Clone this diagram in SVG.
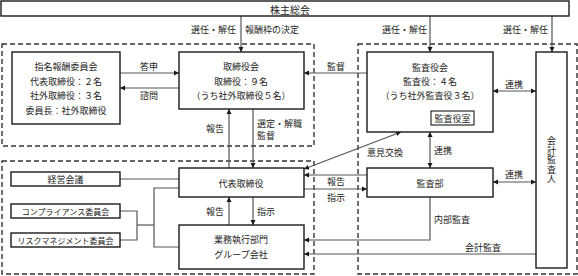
<svg xmlns="http://www.w3.org/2000/svg" width="578" height="276" viewBox="0 0 578 276">
<style>
.bg{fill:#fff}
.box{fill:#fff;stroke:#1a1a1a;stroke-width:1.4}
.dash{fill:none;stroke:#333;stroke-width:1.4;stroke-dasharray:5 3}
.ln{fill:none;stroke:#555;stroke-width:1.2}
.ar{marker-end:url(#ah)}
.da{marker-end:url(#ah);marker-start:url(#ah)}
text{font-family:"Noto Sans CJK JP","Noto Sans CJK SC",sans-serif;font-size:9px;fill:#222;dominant-baseline:central}
.c{text-anchor:middle}
.e{text-anchor:end}
.s8{font-size:8px}
.v{writing-mode:vertical-rl;letter-spacing:0.5px}
</style>
<defs>
<marker id="ah" markerUnits="userSpaceOnUse" markerWidth="6" markerHeight="6" refX="5" refY="3" orient="auto-start-reverse" viewBox="0 0 6 6">
<path d="M0,0.5 L5,3 L0,5.5 Z" fill="#1a1a1a"/>
</marker>
</defs>
<rect class="bg" x="0" y="0" width="578" height="276"/>
<g id="regions">
<rect class="dash" x="2" y="44" width="312" height="102"/>
<rect class="dash" x="358" y="44" width="219" height="230"/>
<rect class="dash" x="2" y="161" width="312" height="113"/>
</g>
<g id="connectors">
<line class="ln ar" x1="241" y1="16" x2="241" y2="52"/>
<line class="ln ar" x1="430" y1="16" x2="430" y2="52"/>
<line class="ln ar" x1="552" y1="16" x2="552" y2="52"/>
<line class="ln ar" x1="120" y1="73" x2="179" y2="73"/>
<line class="ln ar" x1="179" y1="88" x2="120" y2="88"/>
<line class="ln ar" x1="367" y1="73" x2="304" y2="73"/>
<line class="ln da" x1="493" y1="91" x2="536" y2="91"/>
<line class="ln ar" x1="229" y1="168" x2="229" y2="109"/>
<line class="ln ar" x1="253" y1="109" x2="253" y2="168"/>
<line class="ln da" x1="401" y1="132" x2="304" y2="169"/>
<line class="ln da" x1="430" y1="132" x2="430" y2="168"/>
<line class="ln ar" x1="367" y1="175" x2="304" y2="175"/>
<line class="ln ar" x1="304" y1="189" x2="367" y2="189"/>
<line class="ln da" x1="493" y1="182" x2="536" y2="182"/>
<path class="ln ar" d="M430 197 V240 H304"/>
<line class="ln ar" x1="536" y1="254" x2="304" y2="254"/>
<line class="ln ar" x1="229" y1="225" x2="229" y2="197"/>
<line class="ln ar" x1="253" y1="197" x2="253" y2="225"/>
<line class="ln" x1="120" y1="179" x2="179" y2="179"/>
<path class="ln" d="M120 211 H137 V240 H120"/>
<path class="ln" d="M137 225 H154"/>
<path class="ln" d="M179 188 H154 V247 H179"/>
</g>
<g id="labels">
<text class="e" x="236" y="29">選任・解任</text>
<text x="245" y="29">報酬枠の決定</text>
<text class="e" x="427" y="29">選任・解任</text>
<text class="e" x="548" y="29">選任・解任</text>
<text class="c" x="149" y="66">答申</text>
<text class="c" x="149" y="95">諮問</text>
<text class="c" x="336" y="66">監督</text>
<text class="c" x="514" y="84">連携</text>
<text class="e" x="224" y="128">報告</text>
<text x="257" y="123">選定・解職</text>
<text x="257" y="135">監督</text>
<text x="367" y="152">意見交換</text>
<text x="434" y="150">連携</text>
<text class="c" x="336" y="181">報告</text>
<text class="c" x="336" y="197">指示</text>
<text class="c" x="514" y="174">連携</text>
<text class="e" x="224" y="211">報告</text>
<text x="257" y="211">指示</text>
<text x="434" y="219">内部監査</text>
<text class="c" x="483" y="247">会計監査</text>
</g>
<g id="n-shareholders">
<rect class="box" x="1" y="1" width="568" height="15"/>
<text class="c" x="290" y="9" style="font-size:10px">株主総会</text>
</g>
<g id="n-nomination">
<rect class="box" x="12" y="52" width="108" height="72"/>
<text class="c" x="66" y="66">指名報酬委員会</text>
<text class="c" x="66" y="81">代表取締役：２名</text>
<text class="c" x="66" y="95">社外取締役：３名</text>
<text class="c" x="66" y="110">委員長：社外取締役</text>
</g>
<g id="n-board">
<rect class="box" x="179" y="52" width="125" height="57"/>
<text class="c" x="241" y="66">取締役会</text>
<text class="c" x="241" y="81">取締役：９名</text>
<text class="c" x="241" y="95">（うち社外取締役５名）</text>
</g>
<g id="n-auditboard">
<rect class="box" x="367" y="52" width="126" height="80"/>
<text class="c" x="430" y="67">監査役会</text>
<text class="c" x="430" y="81">監査役：４名</text>
<text class="c" x="430" y="95">（うち社外監査役３名）</text>
<rect class="box" x="431" y="111" width="43" height="14" style="stroke-width:1.1"/>
<text class="c" x="452.5" y="118">監査役室</text>
</g>
<g id="n-accountant">
<rect class="box" x="536" y="52" width="31" height="216"/>
<text class="c v" x="551.5" y="160">会計監査人</text>
</g>
<g id="n-representative">
<rect class="box" x="179" y="168" width="125" height="29"/>
<text class="c" x="241" y="183">代表取締役</text>
</g>
<g id="n-auditdept">
<rect class="box" x="367" y="168" width="126" height="29"/>
<text class="c" x="430" y="183">監査部</text>
</g>
<g id="n-management">
<rect class="box" x="11" y="172" width="109" height="14"/>
<text class="c" x="65.5" y="179">経営会議</text>
</g>
<g id="n-compliance">
<rect class="box" x="11" y="204" width="109" height="14"/>
<text class="c s8" x="65.5" y="211">コンプライアンス委員会</text>
</g>
<g id="n-risk">
<rect class="box" x="11" y="233" width="109" height="14"/>
<text class="c s8" x="65.5" y="240">リスクマネジメント委員会</text>
</g>
<g id="n-operations">
<rect class="box" x="179" y="225" width="125" height="44"/>
<text class="c" x="241" y="239">業務執行部門</text>
<text class="c" x="241" y="254">グループ会社</text>
</g>
</svg>
